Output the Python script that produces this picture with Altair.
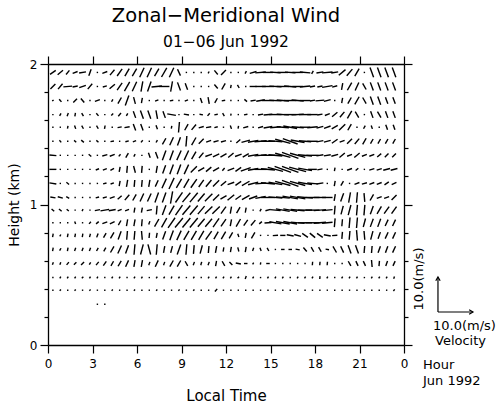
import math
import altair as alt
import pandas as pd

# ---------------- data ----------------
# Local-time bins (hours) and range-gate heights (km)
times = [0.33, 0.83, 1.33, 1.83, 2.33, 2.83, 3.33, 3.83, 4.33, 4.83, 5.33, 5.83,
         6.33, 6.83, 7.33, 7.83, 8.33, 8.83, 9.33, 9.83, 10.33, 10.83, 11.33, 11.83,
         12.33, 12.83, 13.33, 13.83, 14.33, 14.83, 15.33, 15.83, 16.33, 16.83, 17.33,
         17.83, 18.33, 18.83, 19.33, 19.83, 20.33, 20.83, 21.33, 21.83, 22.33, 22.83, 23.33]
heights = [1.94, 1.84, 1.74, 1.64, 1.55, 1.45, 1.35, 1.25, 1.15, 1.05,
           0.96, 0.87, 0.78, 0.68, 0.58, 0.48, 0.39, 0.29]

# each cell: (direction angle in degrees from +x, speed in m/s)
w194 = [(35,2),(40,2),(50,1.5),(20,1.5),(10,2),(70,2),(0,0.4),(20,1.5),(50,2),(55,2.5),(60,2.5),(60,2.5),
        (65,3),(65,3),(60,2.5),(60,3),(65,3),(-65,2),(0,0.4),(0,0.4),(0,0.4),(60,0.6),(-50,1.5),(45,2),
        (0,0.4),(0,0.4),(60,0.8),(15,2),(5,3),(0,3),(-3,3),(0,3),(-3,3),(0,3),(-5,3),(60,1),(10,2),(5,3),
        (10,2),(40,2.5),(50,2.5),(60,2.5),(0,0.4),(-70,3),(-70,3),(-70,3),(-70,3)]
w184 = [(45,2),(50,2),(5,2.5),(10,1.5),(20,2),(50,2),(0,0.4),(15,1.2),(40,2),(55,2.5),(60,3),(65,3),
        (80,3),(70,3),(5,3),(0,3),(80,3),(-70,2.5),(-70,2),(0,0.4),(0,0.4),(0,0.4),(-50,1.5),(60,2),
        (80,1),(-60,1),(0,0.4),(0,2),(0,3),(0,3.5),(-3,3.5),(0,3.5),(-5,3.5),(0,3),(5,3),(10,1.5),(10,1.5),
        (10,3),(15,1.5),(80,2),(60,2.5),(65,2.5),(-60,2),(-70,2.5),(-70,2.5),(-70,2.5),(-70,2.5)]
w174 = [(30,0.5),(-50,1),(0,0.4),(45,1.5),(-50,1.5),(0,0.4),(20,1.5),(0,0.4),(60,0.8),(60,2),(70,3),(-75,2),
        (80,1.5),(0,0.4),(20,1),(0,0.4),(10,1),(0,0.4),(20,1),(0,0.4),(-70,1.5),(-80,2),(60,1.5),(10,1),
        (0,0.4),(0,0.4),(-40,1),(10,1.5),(10,2.5),(0,3.5),(-3,3.5),(-5,3.5),(0,3.5),(-5,3.5),(0,3),(10,1.5),
        (5,2.5),(15,2),(0,0.4),(80,1.5),(60,2),(60,2.5),(-60,2),(-70,2.5),(-70,2.5),(-70,2),(-70,2)]
w164 = [(0,0.4),(60,0.8),(70,1),(80,1),(-60,1),(0,0.4),(-50,1),(0,0.4),(45,0.8),(50,1.2),(60,0.8),(-70,2),
        (-70,2.5),(-70,2.5),(-80,2.5),(-70,2),(-10,2.5),(0,0.4),(-10,1.5),(0,0.4),(-10,1),(50,1),(10,1),(-60,1),
        (80,0.6),(0,0.4),(10,1),(0,0.4),(10,1.5),(5,2.5),(0,3.5),(-3,3.5),(0,3.5),(3,3.5),(0,3.5),(0,3),
        (10,1.5),(20,1.5),(40,2),(50,2),(60,2.5),(-60,2),(0,0.4),(-70,2),(-60,2),(-70,2),(-70,2)]
w155 = [(0,0.4),(0,0.4),(80,0.8),(-70,1),(-60,1),(0,0.4),(-60,1),(80,1),(0,0.4),(10,1.2),(10,1.5),(-70,2),
        (-70,2),(0,0.4),(-70,1.2),(0,0.4),(80,0.8),(85,3),(60,2),(50,2),(15,1.5),(10,1.5),(15,1),(0,0.4),
        (-70,1),(80,0.8),(15,1.5),(0,0.4),(15,1.5),(10,2.5),(5,3),(-5,3.5),(-10,4),(-5,3.5),(0,3),(5,3),
        (15,2),(20,2),(30,2),(45,2.5),(60,2),(0,0.4),(60,1),(-70,1),(0,0.4),(-70,1.5),(-70,1.5)]
w145 = [(0,0.4),(-50,0.8),(0,0.4),(-40,0.8),(-40,1),(0,0.4),(-40,0.8),(0,0.4),(10,1),(0,0.4),(15,1),(20,1),
        (50,0.8),(0,0.4),(60,0.8),(60,2),(65,2.5),(70,2.5),(85,3),(60,2.5),(45,2),(20,1.5),(15,1.5),(15,1.5),
        (0,0.4),(40,1.5),(15,2.5),(10,3),(5,3.5),(0,4),(-5,4),(-15,4.5),(-20,4.5),(-10,4),(-5,3.5),(0,3),
        (10,2),(15,2),(35,2),(20,1.5),(45,2),(50,2),(60,2),(60,1.5),(60,1.5),(60,1.5),(60,1.5)]
w135 = [(-5,2),(0,0.4),(0,0.4),(0,0.4),(0,0.4),(-40,1),(0,0.4),(15,1.5),(20,1.5),(50,0.8),(60,1.5),(60,0.8),
        (0,0.4),(-70,1.5),(-70,2),(70,3),(70,3),(65,3),(65,3),(60,2.5),(50,2),(20,2),(25,2),(30,2),
        (40,2),(20,2),(30,2),(10,3),(5,3.5),(0,4),(-5,4),(-15,4.5),(-20,5),(-15,4.5),(-5,4),(0,3.5),
        (10,2),(10,2),(15,2),(40,2),(20,1.5),(40,2),(20,1.5),(20,1.5),(40,1.5),(45,1.5),(45,1.5)]
w125 = [(0,2),(0,0.4),(0,0.4),(0,0.4),(0,0.4),(0,0.4),(20,1),(20,1.2),(30,1.2),(80,1.5),(85,2),(-75,2),
        (85,2),(0,0.4),(80,2),(70,2.5),(70,3),(70,3),(65,3),(45,2.5),(30,2),(40,2),(30,2),(50,1),
        (20,2),(35,2),(20,3),(10,3),(0,3.5),(-5,4),(-15,4.5),(-20,5),(-20,5),(-15,5),(-10,4),(0,2.5),
        (10,1.5),(0,0.4),(80,1),(0,0.4),(20,1.5),(40,1),(0,0.4),(15,1.5),(15,1.5),(15,2),(15,2)]
w115 = [(-10,2),(0,0.4),(-40,1),(0,0.4),(0,0.4),(0,0.4),(0,0.4),(15,1),(20,1),(80,1.5),(80,2),(85,2),
        (85,2),(80,2),(65,2),(65,3),(65,3.5),(60,3),(60,3),(55,3),(55,2.5),(50,2.5),(45,2.5),(40,2),
        (20,2),(35,2),(30,2.5),(15,3),(5,3),(-5,4),(-10,4),(-15,4.5),(-20,5),(-15,4.5),(-10,4),(-5,3),
        (10,2),(0,0.4),(80,1.5),(60,1.5),(0,0.4),(20,1.5),(15,1.5),(20,1.5),(20,1.5),(35,1.5),(25,1.5)]
w105 = [(-10,1.5),(-15,1.5),(-30,1),(0,0.4),(0,0.4),(0,0.4),(15,1),(15,1.2),(20,1.5),(40,1.5),(50,2),(60,2),
        (65,2.5),(65,2.5),(70,3),(70,3),(80,3.5),(55,3.5),(50,3.5),(50,3.5),(50,3),(45,3),(45,2.5),(30,2),
        (40,2.5),(35,2),(30,2.5),(20,2.5),(10,3),(0,4),(-5,4),(-5,4),(-10,4.5),(-10,4.5),(-5,4.5),(0,4),
        (0,3.5),(0,3),(80,2),(70,2.5),(80,3),(85,3),(-85,2.5),(60,2),(20,1.5),(20,1.5),(45,2)]
w096 = [(-40,1),(-40,1),(-40,0.8),(0,0.4),(60,0.6),(0,0.4),(10,1.5),(10,2.5),(10,2),(20,1.2),(20,1.2),(80,1.5),
        (80,1.5),(10,1.5),(85,2.5),(70,3),(60,3),(55,3.5),(50,3.5),(50,3.5),(50,3),(45,3),(45,3),(55,2.5),
        (80,2),(60,2),(80,1.5),(0,0.4),(60,0.8),(15,1.5),(-5,3),(-10,4),(-10,4),(-5,4),(0,4),(0,4),
        (5,3.5),(5,3),(85,2.5),(75,2.5),(75,3),(85,3),(85,3),(70,2.5),(60,2.5),(55,2.5),(55,2.5)]
w087 = [(0,0.4),(0,0.4),(0,0.4),(-70,0.8),(0,0.4),(50,0.8),(40,1),(20,1.5),(25,1.5),(60,1.5),(80,2),(80,2),
        (85,2),(70,1),(60,2.5),(60,3),(55,3.5),(50,3.5),(50,3.5),(50,3.5),(50,3),(50,3),(55,3),(55,2.5),
        (80,2),(60,2.5),(55,2),(50,2),(40,1),(5,2),(-10,3.5),(-10,4),(-10,4),(-5,4),(0,4),(0,4),
        (5,3.5),(5,3),(85,2.5),(85,2),(85,3),(85,3),(75,2.5),(70,2.5),(70,2.5),(65,2),(65,2)]
w078 = [(80,1),(60,0.6),(80,1),(80,1),(80,1),(75,1),(70,1.2),(60,1.5),(60,2),(70,2.5),(85,2.5),(85,2.5),
        (-85,2.5),(85,1.5),(80,1.5),(70,2.5),(70,3),(65,3),(60,3),(60,3),(60,3),(55,3),(60,2.5),(60,2.5),
        (60,2),(-70,1),(80,1.5),(60,2),(0,0.4),(0,0.4),(5,1.5),(0,1.5),(-10,2),(-15,2),(-35,2),(-40,2),
        (-35,2),(-10,2),(5,1.5),(85,2),(85,2.5),(-85,3),(-85,2.5),(75,2.5),(70,2),(65,2),(65,2)]
w068 = [(80,1),(60,0.8),(80,1),(70,1),(70,1),(70,1),(60,1),(60,1.2),(60,2),(65,2.5),(70,2.5),(85,3),
        (75,3),(-75,3),(85,3),(80,2),(75,2),(70,3),(85,3),(85,2.5),(75,2.5),(85,2),(80,2),(80,1.2),
        (80,1.5),(-75,1.2),(80,1.5),(70,1),(-70,1),(-60,1),(0,0.4),(0,1),(0,1),(-10,1.2),(-50,1.5),(-60,1.5),
        (-60,1.5),(-10,1),(-60,2),(-65,2),(-70,2.5),(-70,2.5),(85,2),(85,2),(70,2),(70,2),(65,2)]
w058 = [(70,0.8),(70,0.8),(50,1),(45,1),(45,1.2),(60,0.8),(50,1.2),(55,1.5),(60,1.5),(60,1.8),(65,2),(80,2),
        (80,2),(70,1),(65,2),(70,1),(60,2),(60,2),(-60,1.5),(70,1),(75,1),(70,1),(80,1.5),(-60,1.5),
        (-45,1.2),(-10,1.5),(0,1),(60,0.6),(80,0.6),(0,1),(0,0.4),(0,0.4),(0,0.4),(0,0.4),(0,0.4),(85,1),
        (85,1),(85,1),(0,0.4),(0,0.4),(-60,1.5),(-65,1.5),(-65,1.5),(-85,2),(85,1.5),(70,1.5),(65,1.5)]
w048 = [(0,0.4),(60,0.6),(60,0.6),(60,0.6),(45,0.6),(60,0.6),(60,0.6),(0,0.4),(60,0.6),(60,0.6),(0,0.4),(60,0.6),
        (60,0.6),(0,0.4),(60,0.6),(60,0.6),(70,0.6),(60,0.6),(0,0.4),(60,0.6),(0,0.4),(60,0.6),(60,0.6),(60,0.6),
        (60,0.6),(45,0.6),(70,0.9),(60,0.6),(0,0.4),(60,0.6),(60,0.6),(60,0.6),(0,0.4),(60,0.6),(60,0.6),(60,0.6),
        (85,0.8),(60,0.6),(0,0.4),(60,0.6),(60,0.6),(60,0.6),(0,0.4),(60,0.6),(60,0.6),(60,0.6),(70,0.7)]
w039 = [(0,0.4),(45,0.5),(0,0.4),(45,0.5),(0,0.4),(45,0.5),(0,0.4),(0,0.4),(45,0.5),(0,0.4),(0,0.4),(45,0.5),
        (0,0.4),(0,0.4),(45,0.5),(0,0.4),(0,0.4),(45,0.5),(0,0.4),(45,0.5),(0,0.4),(0,0.4),(50,1),(0,0.4),
        (0,0.4),(0,0.4),(0,0.4),(0,0.4),(0,0.4),(0,0.4),(0,0.4),(0,0.4),(0,0.4),(0,0.4),(0,0.4),(0,0.4),
        (0,0.4),(0,0.4),(0,0.4),(0,0.4),(0,0.4),(0,0.4),(0,0.4),(0,0.4),(0,0.4),(0,0.4),(50,0.6)]
w029 = [None] * 6 + [(0,0.4),(0,0.4)] + [None] * 39

rows = [w194, w184, w174, w164, w155, w145, w135, w125, w115, w105,
        w096, w087, w078, w068, w058, w048, w039, w029]

# reference vector of the velocity key
REF_SPEED = 10.0

# ---------------- layout ----------------
W, H = 356, 281
PX_PER_MS = 3.5                     # stick length per m/s in pixels
KX = PX_PER_MS * 24.0 / W           # hours per m/s
KY = PX_PER_MS * 2.0 / H            # km per m/s
FONT = "DejaVu Sans"

recs = []
for h, row in zip(heights, rows):
    for t, cell in zip(times, row):
        if cell is None:
            continue
        ang, spd = cell
        u = spd * math.cos(math.radians(ang))
        v = spd * math.sin(math.radians(ang))
        recs.append({"t": t, "h": h, "u": u, "v": v,
                     "x0": t - u * KX / 2, "x1": t + u * KX / 2,
                     "y0": h - v * KY / 2, "y1": h + v * KY / 2})
df = pd.DataFrame(recs)

REF_T, REF_H = 26.29, 0.235
ref = pd.DataFrame({"t0": [REF_T], "h0": [REF_H],
                    "t1": [REF_T + REF_SPEED * KX], "h1": [REF_H + REF_SPEED * KY]})

xs = alt.Scale(domain=[0, 24], nice=False, zero=False)
ys = alt.Scale(domain=[0, 2], nice=False, zero=False)
xticks = [0, 3, 6, 9, 12, 15, 18, 21, 24]
yticks = [0, 0.2, 0.4, 0.6, 0.8, 1.0, 1.2, 1.4, 1.6, 1.8, 2.0]
major = "abs(datum.value - round(datum.value)) < 0.001"

common = dict(domainColor="black", domainWidth=1.3, tickColor="black", tickWidth=1.2,
              grid=False, labelColor="black", titleColor="black", labelFont=FONT,
              titleFont=FONT, titleFontWeight="normal", labelFlush=False)

x_bottom = alt.Axis(orient="bottom", values=xticks, tickSize=8, labelFontSize=12, labelPadding=5,
                    labelExpr="datum.value == 24 ? '0' : datum.label", title="Local Time",
                    titleFontSize=15, titlePadding=19, **common)
x_top = alt.Axis(orient="top", values=xticks, tickSize=8, labels=False, title=None, **common)
y_left = alt.Axis(orient="left", values=yticks,
                  tickSize=alt.condition(major, alt.value(8), alt.value(4)),
                  labelFontSize=12, labelPadding=3,
                  labelExpr=f"{major} ? format(datum.value, 'd') : ''",
                  title="Height (km)", titleFontSize=14, titlePadding=8, **common)
y_right = alt.Axis(orient="right", values=yticks,
                   tickSize=alt.condition(major, alt.value(8), alt.value(4)),
                   labels=False, title=None, **common)

sticks = alt.Chart(df).mark_rule(color="black", strokeWidth=1.4).encode(
    x=alt.X("x0:Q", scale=xs, axis=x_bottom),
    x2="x1:Q",
    y=alt.Y("y0:Q", scale=ys, axis=y_left),
    y2="y1:Q",
)
mirror = alt.Chart(df).mark_rule(opacity=0).encode(
    x=alt.X("t:Q", scale=xs, axis=x_top),
    y=alt.Y("h:Q", scale=ys, axis=y_right),
)

key_h = alt.Chart(ref).mark_rule(color="black", strokeWidth=1.2).encode(
    x=alt.X("t0:Q", scale=xs, axis=None), x2="t1:Q",
    y=alt.Y("h0:Q", scale=ys, axis=None))
key_v = alt.Chart(ref).mark_rule(color="black", strokeWidth=1.2).encode(
    x=alt.X("t0:Q", scale=xs, axis=None),
    y=alt.Y("h0:Q", scale=ys, axis=None), y2="h1:Q")
CHEVRON = "M-0.8,1.4L0,0L0.8,1.4"
head_h = alt.Chart(ref).mark_point(shape=CHEVRON, filled=False, color="black", strokeWidth=1.2,
                                   size=30, angle=90, opacity=1).encode(
    x=alt.X("t1:Q", scale=xs, axis=None), y=alt.Y("h0:Q", scale=ys, axis=None))
head_v = alt.Chart(ref).mark_point(shape=CHEVRON, filled=False, color="black", strokeWidth=1.2,
                                   size=30, angle=0, opacity=1).encode(
    x=alt.X("t0:Q", scale=xs, axis=None), y=alt.Y("h1:Q", scale=ys, axis=None))


def label(text, x, y, size=13, angle=0, align="left"):
    return alt.Chart(alt.Data(values=[{}])).mark_text(
        text=text, font=FONT, fontSize=size, color="black", align=align,
        baseline="middle", angle=angle).encode(x=alt.value(x), y=alt.value(y))


texts = [
    label("Hour", 375, 301),
    label("Jun  1992", 375, 317),
    label("10.0(m/s)", 385, 262),
    label("Velocity", 387, 277),
    label("10.0(m/s)", 371, 215, angle=270, align="center"),
]

chart = alt.layer(sticks, mirror, key_h, key_v, head_h, head_v, *texts).properties(
    width=W, height=H,
    padding={"left": 48, "top": 64, "right": 96, "bottom": 61},
    autosize=alt.AutoSizeParams(type="none"),
    title=alt.TitleParams(text="Zonal\u2212Meridional  Wind", subtitle="01\u221206  Jun  1992",
                          font=FONT, subtitleFont=FONT, fontSize=19.5, subtitleFontSize=15.5,
                          fontWeight="normal", color="black", subtitleColor="black",
                          anchor="middle", frame="group", offset=4, subtitlePadding=8),
).configure_view(stroke="transparent").configure(background="white")

chart.save("out.html", embed_options={"renderer": "svg", "actions": False})
